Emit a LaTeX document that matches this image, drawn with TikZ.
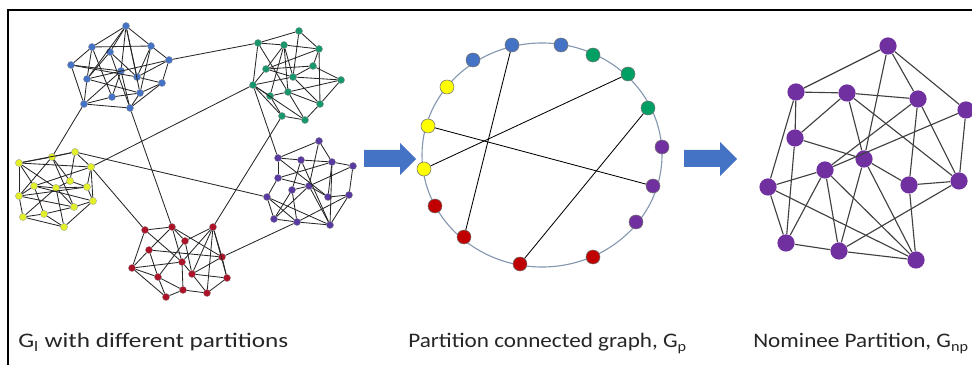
\documentclass[tikz,border=0pt]{standalone}
\usepackage{fontspec}
\setmainfont{Carlito}[FakeStretch=1.12]
\newfontfamily\widecap{Carlito}[FakeStretch=1.22]
\definecolor{lblue}{RGB}{68,114,196}
\definecolor{lgreen}{RGB}{26,150,110}
\definecolor{lyellow}{RGB}{225,240,40}
\definecolor{lpurple}{RGB}{88,58,160}
\definecolor{lred}{RGB}{172,18,40}
\definecolor{cyellow}{RGB}{255,255,0}
\definecolor{cpurple}{RGB}{112,48,160}
\definecolor{cred}{RGB}{192,0,0}
\definecolor{cgreen}{RGB}{0,160,100}
\definecolor{ringgray}{RGB}{132,151,176}
\definecolor{arrowblue}{RGB}{68,114,196}
\begin{document}
\begin{tikzpicture}[x=0.025cm, y=-0.025cm,
    lnode/.style={circle, draw=black!40, line width=0.2pt, inner sep=0pt, minimum size=0.18cm},
    cnode/.style={circle, draw=black!55, line width=0.4pt, inner sep=0pt, minimum size=0.35cm},
    nnode/.style={circle, fill=cpurple, inner sep=0pt, minimum size=0.43cm},
    ledge/.style={draw=black!85, line width=0.6pt},
    nedge/.style={draw=black!75, line width=0.8pt},
    lbl/.style={anchor=base west, inner sep=0pt, text=black!85, font=\fontsize{14.7}{17}\selectfont}]
\useasboundingbox (0,0) rectangle (972,365);
\draw[line width=1pt] (8,365) -- (8,10) -- (972,10);

% partitions of G_l
\foreach \n/\x/\y in {b1/126/26, b2/92/47, b3/110/52, b4/151/46, b5/169/60, b6/71/65, b7/121/71,
        b8/87/79, b9/137/77, b10/162/83, b11/112/97, b12/140/93, b13/84/104, b14/130/108}
    \node[lnode, fill=lblue] (\n) at (\x,\y) {};
\foreach \n/\x/\y in {g1/299/31, g2/258/43, g3/284/45, g4/319/49, g5/266/69, g6/313/66, g7/293/77,
        g8/341/80, g9/253/85, g10/288/92, g11/270/96, g12/320/104, g13/282/116, g14/305/120}
    \node[lnode, fill=lgreen] (\n) at (\x,\y) {};
\foreach \n/\x/\y in {y1/52/157, y2/75/152, y3/19/163, y4/91/167, y5/70/181, y6/34/186, y7/56/188,
        y8/87/187, y9/19/196, y10/93/201, y11/74/207, y12/44/214, y13/23/217, y14/64/227}
    \node[lnode, fill=lyellow] (\n) at (\x,\y) {};
\foreach \n/\x/\y in {pa/319/141, pb/278/158, pc/301/160, pd/332/162, pe/353/166, pf/278/178, pg/309/186,
        ph/292/190, pi/267/197, pj/328/197, pk/349/195, pl/274/219, pm/297/222, pn/330/225}
    \node[lnode, fill=lpurple] (\n) at (\x,\y) {};
\foreach \n/\x/\y in {r1/145/230, r2/172/227, r3/213/227, r4/185/241, r5/149/250, r6/182/262, r7/222/257,
        r8/132/268, r9/158/277, r10/192/274, r11/227/278, r12/183/290, r13/207/293, r14/166/297}
    \node[lnode, fill=lred] (\n) at (\x,\y) {};

\foreach \a/\b in {b1/b2, b1/b3, b1/b4, b1/b7, b1/b9, b1/b8, b1/b12, b2/b4, b2/b6, b2/b8, b2/b11,
        b3/b8, b3/b9, b3/b14, b4/b5, b4/b9, b4/b12, b5/b8, b5/b10, b5/b9, b6/b7, b6/b13, b6/b9,
        b7/b11, b7/b14, b7/b13, b8/b13, b8/b12, b9/b10, b10/b12, b10/b14, b11/b12, b12/b14,
        b13/b14, b13/b11,
        g1/g2, g1/g4, g1/g7, g2/g3, g2/g9, g2/g10, g3/g4, g3/g5, g3/g7, g3/g10, g4/g5, g4/g6,
        g4/g12, g5/g6, g5/g7, g5/g9, g6/g7, g6/g8, g7/g8, g7/g9, g7/g12, g8/g10, g8/g12, g9/g11,
        g9/g13, g9/g14, g10/g11, g10/g12, g10/g14, g11/g13, g12/g14, g13/g14, g11/g3,
        y1/y2, y1/y3, y1/y9, y1/y5, y1/y11, y2/y4, y2/y5, y2/y3, y3/y4, y3/y6, y3/y9, y3/y7,
        y4/y6, y4/y10, y4/y8, y5/y7, y5/y8, y6/y7, y6/y12, y6/y10, y7/y8, y7/y11, y7/y13, y7/y14,
        y8/y9, y8/y10, y9/y13, y9/y11, y10/y11, y10/y14, y11/y12, y12/y13, y12/y14, y13/y14, y6/y9,
        pa/pb, pa/pd, pa/pg, pb/pc, pb/pf, pb/pj, pc/pd, pc/ph, pc/pn, pd/pe, pd/pf, pd/pj, pd/pn,
        pe/pk, pe/pg, pf/pg, pf/pi, pg/ph, pg/pl, pg/pj, pg/pn, ph/pl, ph/pm, pi/pl, pi/pm, pi/pn,
        pj/pk, pk/pm, pl/pm, pm/pn, pk/pn,
        r1/r2, r1/r8, r1/r6, r2/r4, r2/r5, r2/r6, r2/r7, r3/r4, r3/r6, r3/r7, r3/r10, r3/r11,
        r3/r13, r4/r9, r4/r10, r5/r8, r5/r9, r5/r7, r6/r12, r6/r10, r7/r10, r7/r11, r8/r9, r8/r14,
        r9/r14, r9/r12, r10/r11, r10/r13, r11/r13, r12/r13, r12/r14, r8/r6}
    \draw[ledge] (\a) -- (\b);
% links between partitions
\foreach \a/\b in {b5/g2, b13/y1, b14/r2, g9/y4, g9/pb, g13/r3, y2/pi, y4/r1, r7/pm}
    \draw[ledge] (\a) -- (\b);

\fill[arrowblue] (364,150) -- (400,150) -- (400,143) -- (416,159) -- (400,175) -- (400,167) -- (364,167) -- cycle;

% partition connected graph
\draw[ringgray, line width=0.8pt] (542,155) ellipse [x radius=120, y radius=112];
\foreach \n/\x/\y/\c in {c1/473/60/lblue, c2/512/45/lblue, c3/561/45/lblue,
        c4/593/55/cgreen, c5/628/74/cgreen, c6/648/108/cgreen,
        c7/662/147/cpurple, c8/653/186/cpurple, c9/636/222/cpurple,
        c10/593/257/cred, c11/520/264/cred, c12/464/237/cred, c13/435/206/cred,
        c14/447/87/cyellow, c15/428/126/cyellow, c16/424/169/cyellow}
    \node[cnode, fill=\c] (\n) at (\x,\y) {};
\foreach \a/\b in {c2/c12, c15/c8, c16/c5, c6/c11}
    \draw[black, line width=0.6pt] (\a) -- (\b);

\fill[arrowblue] (684,150) -- (720,150) -- (720,142) -- (737,159) -- (720,176) -- (720,167) -- (684,167) -- cycle;

% nominee partition
\foreach \n/\x/\y in {n1/888/46, n2/796/92, n3/847/93, n4/918/99, n5/966/110, n6/795/138, n7/864/159,
        n8/825/170, n9/768/187, n10/909/185, n11/959/181, n12/786/243, n13/839/251, n14/916/260}
    \node[nnode] (\n) at (\x,\y) {};
\foreach \a/\b in {n1/n2, n1/n4, n1/n5, n1/n7, n2/n3, n2/n6, n2/n9, n3/n4, n3/n6, n3/n7, n3/n11,
        n4/n8, n4/n10, n4/n11, n5/n8, n5/n11, n6/n7, n6/n12, n7/n10, n7/n13, n7/n14, n8/n9,
        n8/n12, n8/n13, n8/n14, n9/n12, n9/n14, n10/n11, n10/n14, n11/n13, n12/n13, n13/n14}
    \draw[nedge] (\a) -- (\b);

\node[lbl] (capl) at (18,348) {\widecap G\textsubscript{l} with different partitions};
\node[lbl] (capp) at (408,348) {Partition connected graph, G\textsubscript{p}};
\node[lbl] (capnp) at (753,348) {Nominee Partition, G\textsubscript{np}};
\end{tikzpicture}
\end{document}
